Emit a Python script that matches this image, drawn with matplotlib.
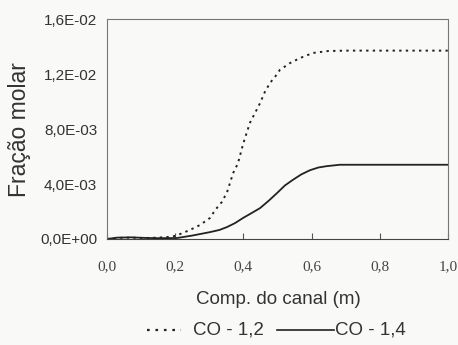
import matplotlib
matplotlib.use("Agg")
import matplotlib.pyplot as plt
from matplotlib.lines import Line2D

# Channel length (m) and CO molar fraction for the two cases
x_co12 = [0.0, 0.03, 0.07, 0.11, 0.15, 0.18, 0.199, 0.223, 0.249, 0.273, 0.302,
          0.317, 0.337, 0.352, 0.361, 0.37, 0.384, 0.399, 0.419, 0.434, 0.449,
          0.463, 0.478, 0.493, 0.507, 0.537, 0.566, 0.604, 0.648, 0.70, 0.80,
          0.90, 1.0]
y_co12 = [0.0, 0.00008, 0.00010, 0.00007, 0.00010, 0.00015, 0.00022, 0.00044,
          0.00073, 0.00102, 0.00153, 0.0021, 0.0027, 0.0034, 0.0041, 0.0048,
          0.0055, 0.0069, 0.00844, 0.00916, 0.00989, 0.0107, 0.01135, 0.0118,
          0.0123, 0.0128, 0.01316, 0.01353, 0.01367, 0.0137, 0.0137, 0.0137,
          0.0137]

x_co14 = [0.0, 0.03, 0.07, 0.11, 0.15, 0.205, 0.25, 0.302, 0.33, 0.352, 0.375,
          0.399, 0.425, 0.449, 0.475, 0.499, 0.522, 0.545, 0.57, 0.595, 0.62,
          0.645, 0.683, 0.75, 0.85, 1.0]
y_co14 = [0.0, 0.00010, 0.00012, 0.00008, 0.00006, 0.00007, 0.00025, 0.0005,
          0.00066, 0.00087, 0.00115, 0.00153, 0.0019, 0.00225, 0.0028, 0.00335,
          0.0039, 0.0043, 0.0047, 0.0050, 0.0052, 0.0053, 0.0054, 0.0054,
          0.0054, 0.0054]

x_ticks = [0.0, 0.2, 0.4, 0.6, 0.8, 1.0]
x_tick_labels = ["0,0", "0,2", "0,4", "0,6", "0,8", "1,0"]
y_ticks = [0.0, 0.004, 0.008, 0.012, 0.016]
y_tick_labels = ["0,0E+00", "4,0E-03", "8,0E-03", "1,2E-02", "1,6E-02"]

labels = ["CO - 1,2", "CO - 1,4"]

narrow = ["Liberation Sans Narrow", "Liberation Sans", "DejaVu Sans"]
sans = ["Liberation Sans", "DejaVu Sans"]
serif = ["Liberation Serif", "DejaVu Serif"]
txt = "#333333"
ink = "#222222"
dotted = (0, (1.2, 2.2))

W, H = 458, 345
fig = plt.figure(figsize=(W / 100, H / 100), dpi=100)
fig.patch.set_facecolor("#f9f9f7")
ax = fig.add_axes([107 / W, 1 - 239 / H, 341 / W, 220 / H])
ax.set_facecolor("#f9f9f7")

ax.plot(x_co12, y_co12, color=ink, lw=1.4, linestyle=dotted)
ax.plot(x_co14, y_co14, color=ink, lw=1.3, linestyle="-")

ax.set_xlim(0, 1.0)
ax.set_ylim(0, 0.016)
ax.set_xticks(x_ticks)
ax.set_xticklabels(x_tick_labels, family=serif, fontsize=11, color="#444444")
ax.set_yticks(y_ticks)
ax.set_yticklabels(y_tick_labels, family=narrow, fontsize=11, color=txt)
ax.tick_params(axis="x", direction="in", length=4, width=0.8, color="#555555", pad=15)
ax.tick_params(axis="y", direction="in", length=0, pad=7)

for sp in ax.spines.values():
    sp.set_linestyle((0, (1, 1)))
    sp.set_linewidth(0.8)
    sp.set_color("#777777")
ax.spines["bottom"].set_linestyle("-")
ax.spines["bottom"].set_color("#444444")

# axis titles
fig.text(278 / W, 1 - 300 / H, "Comp. do canal (m)", family=sans, fontsize=13.5,
         color=txt, ha="center", va="center")
fig.text(20 / W, 1 - 130 / H, "Fração molar", family=sans, fontsize=16.5,
         color=txt, ha="center", va="center", rotation=90)

# legend row below the axis title
yl = 1 - 330 / H
fig.add_artist(Line2D([147 / W, 181 / W], [yl, yl], color=ink, lw=1.6,
                      linestyle=(0, (1.2, 2.6))))
fig.text(193 / W, yl, labels[0], family=sans, fontsize=13.5, color=txt,
         ha="left", va="center")
fig.add_artist(Line2D([277 / W, 334 / W], [yl, yl], color=ink, lw=1.2))
fig.text(335 / W, yl, labels[1], family=sans, fontsize=13.5, color=txt,
         ha="left", va="center")

fig.savefig("out.png", dpi=100, facecolor=fig.get_facecolor())
